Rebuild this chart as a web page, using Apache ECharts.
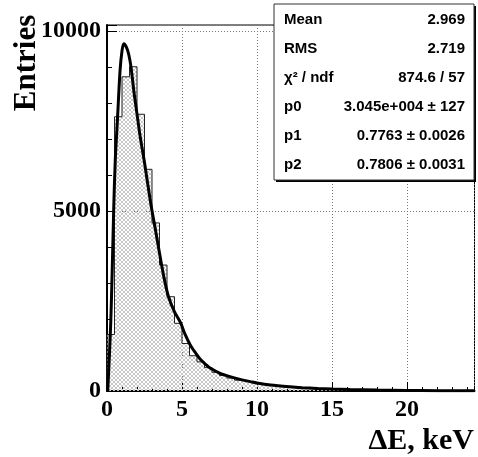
<!DOCTYPE html>
<html><head><meta charset="utf-8">
<script src="https://cdn.jsdelivr.net/npm/echarts@6/dist/echarts.min.js"></script>
<style>html,body{margin:0;padding:0;background:#fff}#c{width:478px;height:457px}</style>
</head><body><div id="c"></div>
<script>
// Histogram: lower bin edges (keV) and entries
const binLow = [0,0.5,1,1.5,2,2.5,3,3.5,4,4.5,5,5.5,6,6.5,7,7.5,8,8.5,9,9.5,10,10.5,11,11.5,12,12.5,13,13.5,14,14.5,15,15.5,16,16.5,17,17.5,18,18.5,19,19.5,20,20.5,21,21.5,22,22.5,23,23.5,24];
const binCounts = [1570,7620,8730,9010,7690,6160,4670,3500,2620,1880,1320,980,810,650,520,430,360,300,255,215,185,155,130,110,95,80,68,58,50,42,36,31,27,23,20,17,15,13,11,10,9,8,7,6,5,5,4,4,3];
const binEnd = 24.5;
// Fit curve
const fitX = [0.05,0.15,0.25,0.35,0.45,0.55,0.71,0.87,1.0,1.12,1.3,1.45,1.6,1.8,2.0,2.2,2.5,2.9,3.2,3.45,3.8,4.1,4.5,4.9,5.2,5.55,5.9,6.22,6.6,6.9,7.5,8.2,9.0,9.55,10.0,10.9,12.2,13,14,15,16.2,18,20,22,24.5];
const fitY = [0,900,1900,3400,5100,6400,7650,8900,9450,9650,9550,9350,9000,8300,7700,7100,6350,5250,4550,3950,3150,2620,2200,1900,1580,1280,1060,880,730,630,500,400,310,260,220,165,115,92,72,55,40,25,15,10,6];
const xTicks = [0,5,10,15,20];
const yTicks = [0,5000,10000];
const statLabels = ['Mean','RMS','\u03C7\u00B2 / ndf','p0','p1','p2'];
const statValues = ['2.969','2.719','874.6 / 57','3.045e+004 \u00B1 127','0.7763 \u00B1 0.0026','0.7806 \u00B1 0.0031'];

const chart = echarts.init(document.getElementById('c'), null, {renderer:'canvas'});

// crosshatch pattern (pixel exact)
const pc = document.createElement('canvas');
pc.width = 4; pc.height = 4;
const g = pc.getContext('2d');
g.fillStyle = '#c6c6c6';
for (let i = 0; i < 4; i++) { g.fillRect(i, i, 1, 1); g.fillRect(i, 3 - i, 1, 1); }

const histData = [[0,0]];
binLow.forEach((x,i)=>histData.push([x, binCounts[i]]));
histData.push([binEnd, binCounts[binCounts.length-1]]);
const fitData = fitX.map((x,i)=>[x, fitY[i]]);

const serif = '"Liberation Serif","Times New Roman",serif';
const sans = '"Liberation Sans",Arial,sans-serif';
const XMAX = 24.5, YMAX = 10170;

const graphics = [
  {type:'rect', shape:{x:276,y:6,width:200,height:176}, style:{fill:'#000'}, z:100},
  {type:'rect', shape:{x:274,y:4,width:200,height:176}, style:{fill:'#fff', stroke:'#333', lineWidth:1}, z:101},
  {type:'text', x:27, y:63, rotation:Math.PI/2, style:{text:'Entries', font:'bold 31px '+serif, fill:'#000', align:'center', verticalAlign:'middle'}, z:102},
  {type:'text', x:474, y:441, style:{text:'\u0394E, keV', font:'bold 30px '+serif, fill:'#000', align:'right', verticalAlign:'middle'}, z:102}
];
statLabels.forEach((s,i)=>{
  graphics.push({type:'text', x:284, y:20+i*29, style:{text:s, font:'bold 15px '+sans, fill:'#000', align:'left', verticalAlign:'middle'}, z:102});
  graphics.push({type:'text', x:465, y:20+i*29, style:{text:statValues[i], font:'bold 15px '+sans, fill:'#000', align:'right', verticalAlign:'middle'}, z:102});
});

chart.setOption({
  animation:false,
  backgroundColor:'#fff',
  grid:{left:107, top:25, width:367.5, height:366, show:true, borderColor:'#000', borderWidth:1, backgroundColor:'#fff'},
  xAxis:[{
    type:'value', min:0, max:XMAX, interval:5, position:'bottom',
    axisLine:{show:true, onZero:false, lineStyle:{color:'#000', width:2}},
    axisTick:{show:true, inside:true, length:9, lineStyle:{color:'#000', width:1}},
    splitLine:{show:true, lineStyle:{color:'#777', type:[1,2], width:1}},
    axisLabel:{margin:7, color:'#000', fontFamily:serif, fontWeight:'bold', fontSize:24,
      formatter:v=>xTicks.includes(v)?String(v):'', showMaxLabel:false}
  },{
    type:'value', min:0, max:XMAX, interval:1, position:'bottom',
    axisLine:{show:false}, axisTick:{show:true, inside:true, length:4, lineStyle:{color:'#000'}},
    splitLine:{show:false}, axisLabel:{show:false}
  }],
  yAxis:[{
    type:'value', min:0, max:YMAX, interval:5000, position:'left',
    axisLine:{show:true, onZero:false, lineStyle:{color:'#000', width:2}},
    axisTick:{show:true, inside:true, length:10, lineStyle:{color:'#000'}},
    splitLine:{show:true, lineStyle:{color:'#777', type:[1,2], width:1}},
    axisLabel:{margin:6, color:'#000', fontFamily:serif, fontWeight:'bold', fontSize:24,
      formatter:v=>yTicks.includes(v)?String(v):''}
  },{
    type:'value', min:0, max:YMAX, interval:1000, position:'left',
    axisLine:{show:false}, axisTick:{show:true, inside:true, length:5, lineStyle:{color:'#000'}},
    splitLine:{show:false}, axisLabel:{show:false}
  }],
  series:[{
    type:'line', data:histData, step:'end', symbol:'none', xAxisIndex:0, yAxisIndex:0,
    lineStyle:{color:'#222', width:1},
    areaStyle:{color:{image:pc, repeat:'repeat'}, opacity:1},
    z:2
  },{
    type:'line', data:fitData, smooth:0.3, symbol:'none', xAxisIndex:0, yAxisIndex:0,
    lineStyle:{color:'#000', width:3}, z:3
  }],
  graphic:graphics
});
</script></body></html>
